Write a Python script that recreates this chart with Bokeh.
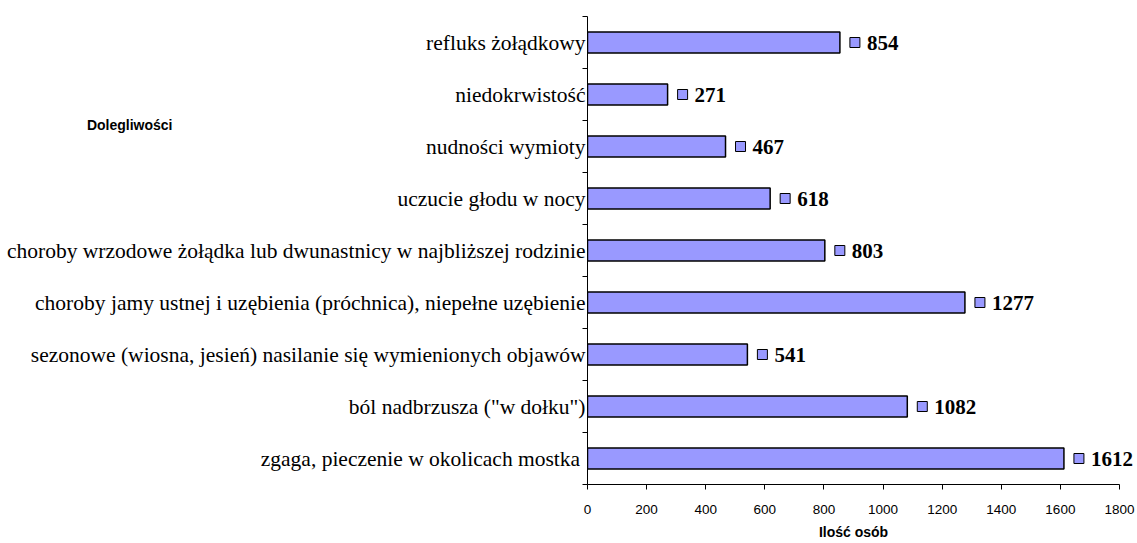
from bokeh.plotting import figure
from bokeh.models import Range1d, LinearAxis, FixedTicker, ColumnDataSource, LabelSet
from bokeh.core.properties import value
from bokeh.embed import file_html
from bokeh.resources import INLINE

# ---------------- data ----------------
categories = [
    "refluks żołądkowy",
    "niedokrwistość",
    "nudności wymioty",
    "uczucie głodu w nocy",
    "choroby wrzodowe żołądka lub dwunastnicy w najbliższej rodzinie",
    "choroby jamy ustnej i uzębienia (próchnica), niepełne uzębienie",
    "sezonowe (wiosna, jesień) nasilanie się wymienionych objawów",
    'ból nadbrzusza ("w dołku")',
    "zgaga, pieczenie w okolicach mostka ",
]
counts = [854, 271, 467, 618, 803, 1277, 541, 1082, 1612]
x_ticks = [0, 200, 400, 600, 800, 1000, 1200, 1400, 1600, 1800]
x_title = "Ilość osób"
y_title = "Dolegliwości"

# ---------------- layout (pixels) ----------------
W, H = 1137, 543
FRAME_L, FRAME_T, FRAME_B = 587, 16, 484     # frame edges on the page
AXIS_END_PX = 1119                             # where the last x tick sits
Y_TITLE_PX = 124                               # vertical centre of "Dolegliwości"
Y_TITLE_RIGHT_PX = 176                         # right edge of "Dolegliwości"
n = len(categories)
X_MAX = x_ticks[-1]
px_per_x = (AXIS_END_PX - FRAME_L) / X_MAX
px_per_y = (FRAME_B - FRAME_T) / n
X_END = (W - FRAME_L) / px_per_x               # frame runs to the right edge

centers = [n - 1 - i for i in range(n)]
boundaries = [k - 0.5 for k in range(n + 1)]

BAR_COLOR = "#9999FF"
SERIF = "Liberation Serif"
SANS = "Liberation Sans"

p = figure(width=W, height=H, output_backend="svg", toolbar_location=None,
           x_range=Range1d(0, X_END), y_range=Range1d(-0.5, n - 0.5),
           x_axis_location=None, y_axis_location=None,
           min_border_left=FRAME_L, min_border_right=0,
           min_border_top=FRAME_T, min_border_bottom=H - FRAME_B)
p.outline_line_color = None
p.background_fill_color = "white"
p.border_fill_color = "white"
p.xgrid.visible = False
p.ygrid.visible = False

# y axis (categories), ticks between categories
yaxis = LinearAxis(
    ticker=FixedTicker(ticks=centers, minor_ticks=boundaries),
    major_label_overrides={c: lab for c, lab in zip(centers, categories)},
    major_tick_out=0, major_tick_in=0,
    minor_tick_out=5, minor_tick_in=0,
    major_label_standoff=-3,
    axis_line_color="black", minor_tick_line_color="black",
    major_label_text_font=SERIF, major_label_text_font_size="21.5px",
    major_label_text_color="black",
)
p.add_layout(yaxis, "left")

# outer left "axis" carrying only the y title, placed at the upper left
y_title_pos = -0.5 + (FRAME_B - Y_TITLE_PX) / px_per_y
ytitle_axis = LinearAxis(
    ticker=FixedTicker(ticks=[y_title_pos], minor_ticks=[]),
    major_label_overrides={y_title_pos: y_title},
    major_tick_out=0, major_tick_in=0, minor_tick_out=0, minor_tick_in=0,
    major_label_standoff=-(Y_TITLE_RIGHT_PX - 7),
    axis_line_color=None, major_tick_line_color=None, minor_tick_line_color=None,
    major_label_text_font=SANS, major_label_text_font_size="14px",
    major_label_text_font_style="bold", major_label_text_color="black",
)
p.add_layout(ytitle_axis, "left")

xaxis = LinearAxis(
    ticker=FixedTicker(ticks=x_ticks, minor_ticks=[]),
    bounds=(0, X_MAX),
    major_tick_out=5, major_tick_in=0,
    minor_tick_out=0, minor_tick_in=0,
    major_label_standoff=15,
    axis_line_color="black", major_tick_line_color="black",
    major_label_text_font=SANS, major_label_text_font_size="13.5px",
    major_label_text_color="black",
)
p.add_layout(xaxis, "below")

# second "axis" below carrying the x title, centred on the 0..1800 span
x_title_pos = X_MAX / 2
xtitle_axis = LinearAxis(
    ticker=FixedTicker(ticks=[x_title_pos], minor_ticks=[]),
    major_label_overrides={x_title_pos: x_title},
    major_tick_out=0, major_tick_in=0, minor_tick_out=0, minor_tick_in=0,
    major_label_standoff=7,
    axis_line_color=None, major_tick_line_color=None, minor_tick_line_color=None,
    major_label_text_font=SANS, major_label_text_font_size="14px",
    major_label_text_font_style="bold", major_label_text_color="black",
)
p.add_layout(xtitle_axis, "below")

# bars
p.hbar(y=centers, left=0, right=counts, height=0.4,
       fill_color=BAR_COLOR, line_color="black", line_width=1.5)

# legend-key squares next to value labels
MARK_DX = 15 / px_per_x
p.scatter(x=[c + MARK_DX for c in counts], y=centers, marker="square", size=10,
          fill_color=BAR_COLOR, line_color="black", line_width=1)

src = ColumnDataSource(dict(x=counts, y=centers, t=[str(c) for c in counts]))
labels = LabelSet(x="x", y="y", text="t", source=src, x_offset=27,
                  text_baseline="middle", text_align="left",
                  text_font=value(SERIF), text_font_style="bold",
                  text_font_size="21px", text_color="black")
p.add_layout(labels)

open("out.html", "w").write(file_html(p, INLINE))
